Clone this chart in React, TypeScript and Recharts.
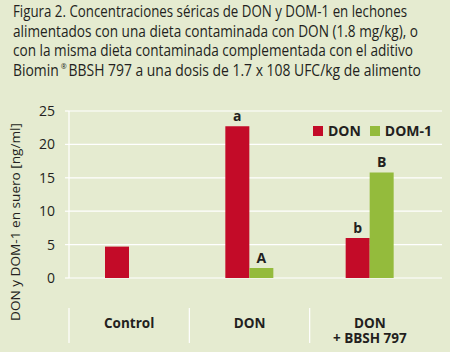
import React from "react"
import { BarChart, Bar, XAxis, YAxis, CartesianGrid, Legend, LabelList, Label } from "recharts"

const categories = ["Control", "DON", "DON\n+ BBSH 797"]
const donValues = [4.7, 22.7, 6.0]
const dom1Values = [null, 1.5, 15.8]
const donLetters = ["", "a", "b"]
const dom1Letters = ["", "A", "B"]
const yTicks = [0, 5, 10, 15, 20, 25]
const seriesOrder = ["DON", "DOM-1"]

const titleLines = [
  "Figura 2. Concentraciones séricas de DON y DOM-1 en lechones",
  "alimentados con una dieta contaminada con DON (1.8 mg/kg), o",
  "con la misma dieta contaminada complementada con el aditivo",
]

const BG = "#E5EBD0"
const RED = "#C30B28"
const GREEN = "#94BB3C"
const TEXT = "#231F20"
const FONT = "'Open Sans', 'Noto Sans', sans-serif"

const W = 450
const H = 352
const PLOT_LEFT = 69
const PLOT_RIGHT = 442
const PLOT_TOP = 111
const PLOT_BOTTOM = 308
const PAD_RIGHT = 12
const BAND = (PLOT_RIGHT - PLOT_LEFT - PAD_RIGHT) / categories.length

const data = categories.map((name, i) => ({
  name,
  DON: donValues[i],
  "DOM-1": dom1Values[i],
  donLetter: donLetters[i],
  dom1Letter: dom1Letters[i],
}))

const CategoryTick = (props: any) => {
  const { x, payload } = props
  const lines = String(payload.value).split("\n")
  const lx = x - BAND / 2
  return (
    <g>
      <line x1={lx} x2={lx} y1={PLOT_BOTTOM} y2={343} stroke="#fff" strokeWidth={1.2} />
      <text textAnchor="middle" fontFamily={FONT} fontWeight={700} fontSize={13.5} fill={TEXT}>
        {lines.map((l, i) => (
          <tspan key={i} x={x} y={PLOT_BOTTOM + 20 + i * 15}>
            {l}
          </tspan>
        ))}
      </text>
    </g>
  )
}

const YLabel = () => (
  <text
    x={20}
    y={222}
    transform="rotate(-90 20 222)"
    textAnchor="middle"
    fontFamily={FONT}
    fontSize={13.5}
    fill={TEXT}
    textLength={198}
    lengthAdjust="spacingAndGlyphs"
  >
    DON y DOM-1 en suero [ng/ml]
  </text>
)

const LegendContent = (props: any) => {
  const items = [...(props.payload || [])].sort(
    (a: any, b: any) => seriesOrder.indexOf(a.value) - seriesOrder.indexOf(b.value)
  )
  return (
    <div style={{ display: "flex", alignItems: "center", fontFamily: FONT, fontWeight: 700, fontSize: 14, color: TEXT }}>
      {items.map((p: any) => (
        <div key={p.value} style={{ display: "flex", alignItems: "center", marginLeft: 9 }}>
          <span style={{ width: 10, height: 10, background: p.color, display: "inline-block", marginRight: 5 }} />
          <span>{p.value}</span>
        </div>
      ))}
    </div>
  )
}

export default function App() {
  return (
    <div style={{ position: "absolute", left: 0, top: 0, width: W, height: H, background: BG }}>
      <svg width={W} height={100} style={{ position: "absolute", left: 0, top: 0 }}>
        {titleLines.map((line, i) => (
          <text
            key={i}
            x={13}
            y={17 + i * 19.6}
            fontFamily={FONT}
            fontSize={15.5}
            fill={TEXT}
            textLength={[394, 405, 400][i]}
            lengthAdjust="spacingAndGlyphs"
          >
            {line}
          </text>
        ))}
        <text x={13} y={76} fontFamily={FONT} fontSize={15.5} fill={TEXT} textLength={408} lengthAdjust="spacingAndGlyphs">
          Biomin
          <tspan fontSize={8} dy={-7}>
            {"  "}®{"  "}
          </tspan>
          <tspan dy={7}>BBSH 797 a una dosis de 1.7 x 108 UFC/kg de alimento</tspan>
        </text>
      </svg>
      <div style={{ position: "absolute", left: 0, top: 0 }}>
        <BarChart
          width={W}
          height={H}
          data={data}
          margin={{ top: PLOT_TOP, right: W - PLOT_RIGHT, bottom: H - PLOT_BOTTOM, left: 0 }}
          barGap={0}
          barSize={24}
        >
          <CartesianGrid vertical={false} stroke="#fff" strokeWidth={1.2} />
          <XAxis
            dataKey="name"
            axisLine={false}
            tickLine={false}
            interval={0}
            padding={{ left: 0, right: PAD_RIGHT }}
            tick={<CategoryTick />}
          />
          <YAxis
            width={PLOT_LEFT}
            domain={[0, 25]}
            ticks={yTicks}
            axisLine={{ stroke: "#fff", strokeWidth: 1.2 }}
            tickLine={{ stroke: "#fff", strokeWidth: 1.2 }}
            tickSize={4}
            tickMargin={10}
            tick={{ fontFamily: FONT, fontSize: 14, fill: TEXT }}
          >
            <Label content={<YLabel />} />
          </YAxis>
          <Legend
            verticalAlign="top"
            align="right"
            content={<LegendContent />}
            wrapperStyle={{ top: 121, right: 18, left: "auto", width: "auto", height: 0, overflow: "visible" }}
          />
          <Bar dataKey="DON" fill={RED} isAnimationActive={false}>
            <LabelList dataKey="donLetter" position="top" offset={5} fill={TEXT} fontFamily={FONT} fontWeight={700} fontSize={14} />
          </Bar>
          <Bar dataKey="DOM-1" fill={GREEN} isAnimationActive={false}>
            <LabelList dataKey="dom1Letter" position="top" offset={5} fill={TEXT} fontFamily={FONT} fontWeight={700} fontSize={14} />
          </Bar>
        </BarChart>
      </div>
    </div>
  )
}
